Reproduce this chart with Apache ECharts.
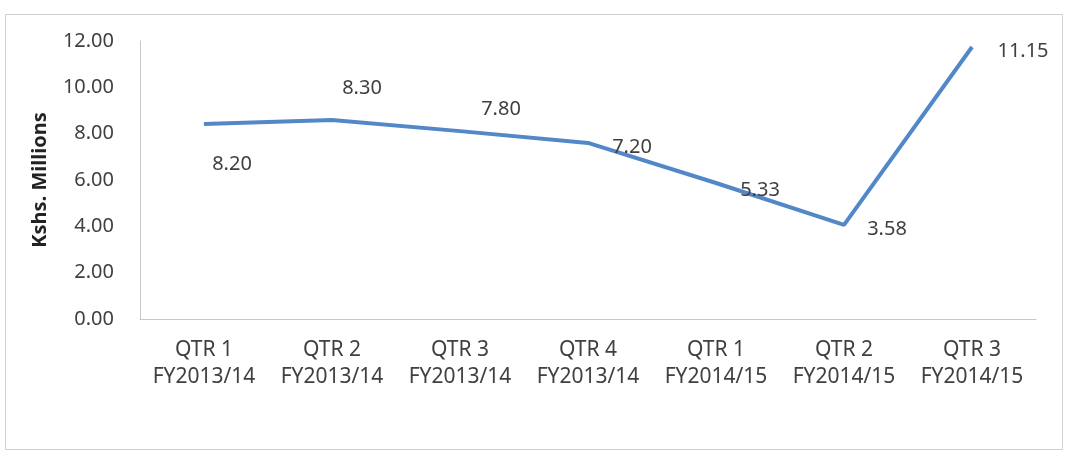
<!DOCTYPE html>
<html>
<head>
<meta charset="utf-8">
<title>Kshs. Millions by quarter</title>
<script src="https://cdn.jsdelivr.net/npm/echarts@6/dist/echarts.min.js"></script>
<style>
    html, body { margin: 0; padding: 0; background: #fff; }
    #chart { width: 1066px; height: 454px; }
</style>
</head>
<body>
<div id="chart"></div>
<script>
// categories (two line labels)
var categories = [
    'QTR 1\nFY2013/14',
    'QTR 2\nFY2013/14',
    'QTR 3\nFY2013/14',
    'QTR 4\nFY2013/14',
    'QTR 1\nFY2014/15',
    'QTR 2\nFY2014/15',
    'QTR 3\nFY2014/15'
];
// line heights as drawn in the picture
var lineValues = [8.42, 8.59, 8.11, 7.60, 5.87, 4.06, 11.74];
// printed data labels
var labelTexts = ['8.20', '8.30', '7.80', '7.20', '5.33', '3.58', '11.15'];
// y axis ticks
var yMin = 0, yMax = 12, yStep = 2;

// where each label sits relative to its point (px)
var labelOffsets = [[28, 40], [30, -32], [41, -22], [44, 4], [44, 7], [43, 4], [51, 4]];

var font = '"Noto Sans", "Open Sans", sans-serif';
var textColor = '#404040';

var seriesData = [];
for (var i = 0; i < lineValues.length; i++) {
    seriesData.push({
        value: lineValues[i],
        label: { offset: labelOffsets[i] }
    });
}

var chart = echarts.init(document.getElementById('chart'));
var option = {
    backgroundColor: '#fff',
    animation: false,
    graphic: [{
        type: 'rect',
        shape: { x: 5.5, y: 14.5, width: 1057, height: 435 },
        style: { fill: 'none', stroke: '#d0d0d0', lineWidth: 1 },
        z: -1
    }],
    grid: { left: 140, right: 30, top: 41, bottom: 135 },
    xAxis: {
        type: 'category',
        data: categories,
        boundaryGap: true,
        axisLine: { show: true, lineStyle: { color: '#c8c8c8', width: 1 } },
        axisTick: { show: false },
        axisLabel: {
            margin: 18,
            color: textColor,
            fontFamily: font,
            fontSize: 21,
            lineHeight: 27,
            interval: 0
        },
        splitLine: { show: false }
    },
    yAxis: {
        type: 'value',
        min: yMin,
        max: yMax,
        interval: yStep,
        name: 'Kshs. Millions',
        nameLocation: 'middle',
        nameGap: 90,
        nameTextStyle: {
            color: '#222',
            fontFamily: font,
            fontSize: 20,
            fontWeight: 'bold'
        },
        axisLine: { show: true, lineStyle: { color: '#c8c8c8', width: 1 } },
        axisTick: { show: false },
        axisLabel: {
            margin: 26,
            color: textColor,
            fontFamily: font,
            fontSize: 20,
            formatter: function (v) { return v.toFixed(2); }
        },
        splitLine: { show: false }
    },
    series: [{
        type: 'line',
        data: seriesData,
        symbol: 'circle',
        symbolSize: 1,
        itemStyle: { color: '#5288c8' },
        lineStyle: { color: '#5288c8', width: 4 },
        label: {
            show: true,
            position: 'inside',
            color: textColor,
            fontFamily: font,
            fontSize: 20,
            formatter: function (p) { return labelTexts[p.dataIndex]; }
        }
    }]
};
chart.setOption(option);
</script>
</body>
</html>
